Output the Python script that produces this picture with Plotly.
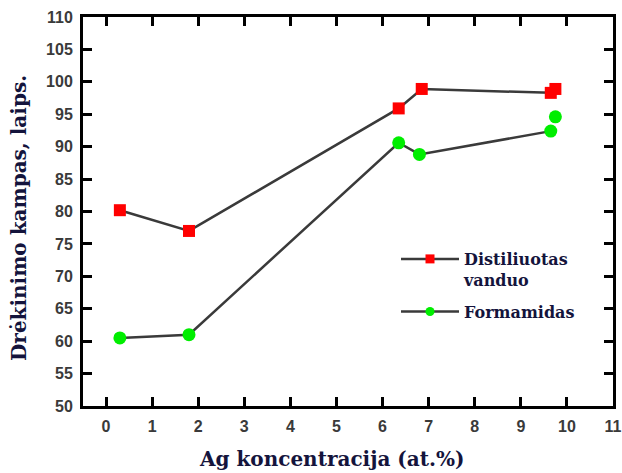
import plotly.graph_objects as go

# Ag concentration (at.%) and contact angles (degrees)
ag_water = [0.3, 1.8, 6.35, 6.85, 9.65, None, 9.75]
angle_water = [80.2, 77.0, 95.9, 98.9, 98.3, None, 98.9]

ag_form = [0.3, 1.8, 6.35, 6.8, 9.65, None, 9.75]
angle_form = [60.5, 61.0, 90.6, 88.8, 92.4, None, 94.6]

series_names = ["Distiliuotas<br>vanduo", "Formamidas"]

x_ticks = list(range(0, 12))
y_ticks = list(range(50, 111, 5))

serif_wide = "DejaVu Serif, serif"
sans = "Liberation Sans, Arial, sans-serif"
title_color = "#14143c"
line_color = "#3a3a3a"
red = "#ff0000"
green = "#00ee00"

fig = go.Figure()
fig.add_trace(go.Scatter(
    x=ag_water, y=angle_water, mode="lines+markers", showlegend=False,
    line=dict(color=line_color, width=2.5),
    marker=dict(symbol="square", size=12, color=red),
    connectgaps=False,
))
fig.add_trace(go.Scatter(
    x=ag_form, y=angle_form, mode="lines+markers", showlegend=False,
    line=dict(color=line_color, width=2.5),
    marker=dict(symbol="circle", size=13, color=green),
    connectgaps=False,
))

# legend entries with smaller symbols than the plotted markers
for name, sym, col, grp in [(series_names[0], "square", red, "w"),
                            (series_names[1], "circle", green, "f")]:
    fig.add_trace(go.Scatter(
        x=[None], y=[None], mode="lines+markers", name=name, legendgroup=grp,
        line=dict(color=line_color, width=2.5),
        marker=dict(symbol=sym, size=9, color=col),
    ))

axis_common = dict(
    showline=True, linecolor="black", linewidth=3, mirror="ticks",
    ticks="inside", ticklen=9, tickwidth=2.5, tickcolor="black",
    showgrid=False, zeroline=False, automargin=False,
    tickfont=dict(family=sans, size=16, color="#3a3a3a", weight="bold"),
)

fig.update_xaxes(range=[-0.5, 11], tickvals=x_ticks, ticklabelstandoff=4, **axis_common)
fig.update_yaxes(range=[50, 110], tickvals=y_ticks, ticklabelstandoff=4, **axis_common)

fig.add_annotation(
    text="Ag koncentracija (at.%)", xref="paper", yref="paper",
    x=(331 - 83) / 530, y=-(459 - 406) / 389, showarrow=False,
    font=dict(family=serif_wide, size=20, color=title_color, weight="bold"),
    xanchor="center", yanchor="middle",
)
fig.add_annotation(
    text="Drėkinimo kampas, laips.", xref="paper", yref="paper",
    x=-(83 - 19) / 530, y=(406 - 218) / 389, showarrow=False, textangle=-90,
    font=dict(family=serif_wide, size=20, color=title_color, weight="bold"),
    xanchor="center", yanchor="middle",
)

fig.update_layout(
    width=622, height=473,
    margin=dict(l=83, r=9, t=17, b=67),
    paper_bgcolor="white", plot_bgcolor="white",
    legend=dict(
        x=(396 - 83) / 530, y=(406 - 242) / 389, xanchor="left", yanchor="top",
        bgcolor="rgba(0,0,0,0)", valign="top", itemwidth=58,
        traceorder="grouped", tracegroupgap=8,
        font=dict(family=serif_wide, size=16, color=title_color, weight="bold"),
    ),
)

fig.write_html("out.html")
